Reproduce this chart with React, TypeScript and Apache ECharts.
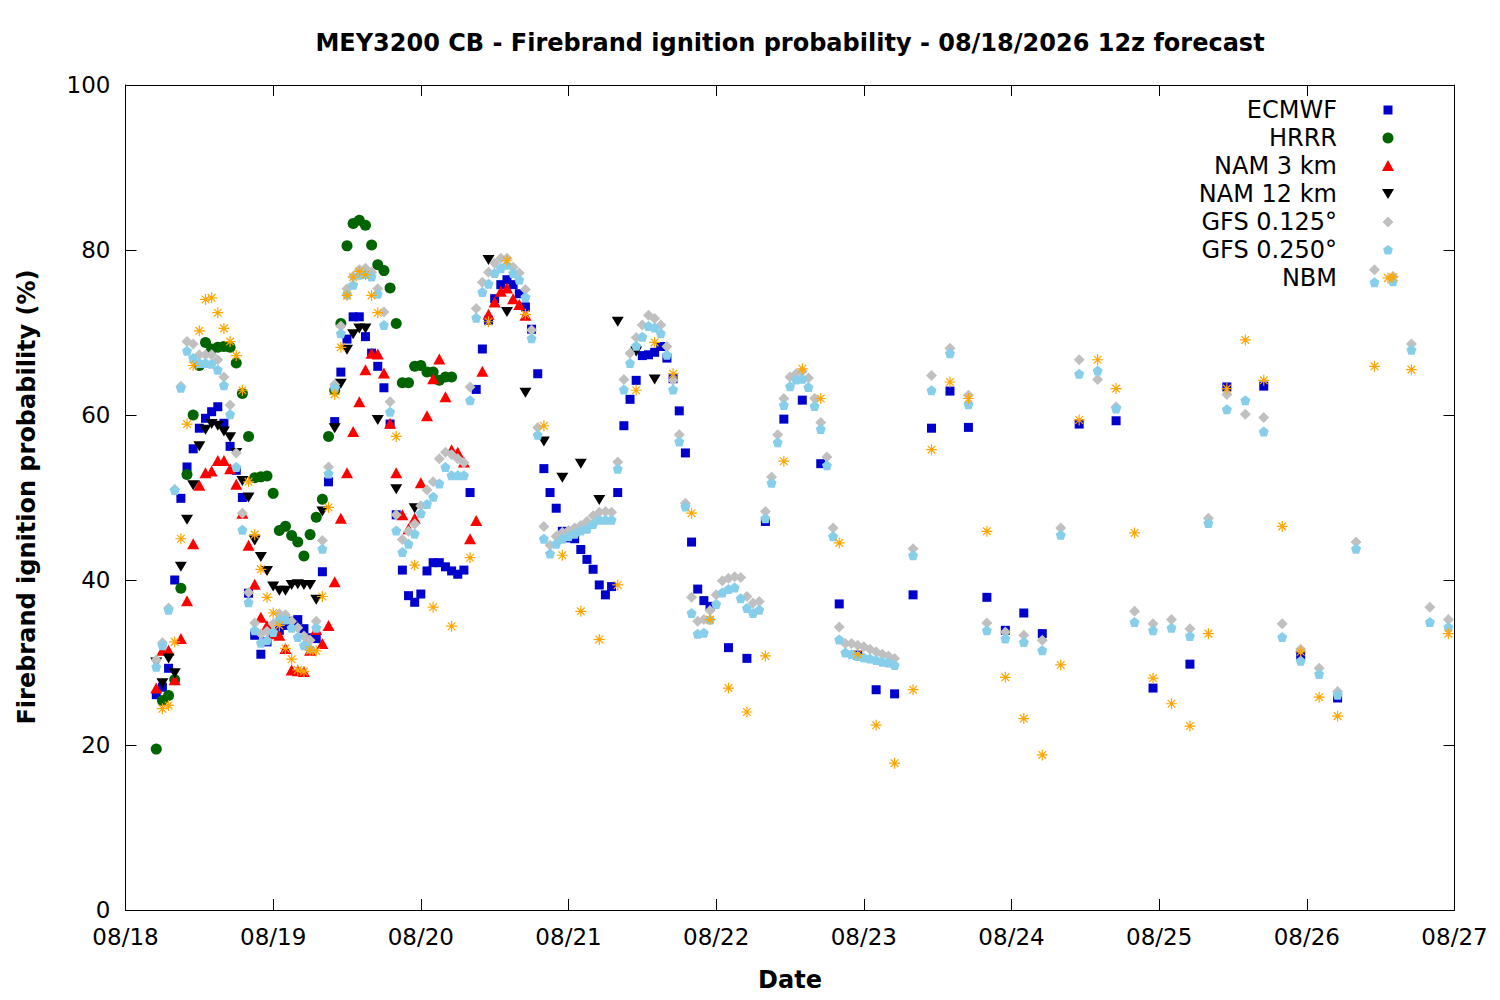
import React, { useEffect, useRef } from "react";
import * as echarts from "echarts";

// hours since 08/18 00 (local), value (%)
const ECMWF: [number, number][] = [
  [5, 26.1], [6, 27], [7, 29.3], [8, 40], [9, 49.9], [10, 53.7], [11, 55.9], [12, 58.4], [13, 59.6], [14, 60.4],
  [15, 61], [16, 59], [17, 56.2], [18, 53.3], [19, 50], [20, 38.4], [21, 33.3], [22, 31], [23, 32.5], [24, 33.4],
  [25, 33.9], [26, 34.5], [27, 35], [28, 35.2], [29, 34.1], [30, 33], [31, 32.9], [32, 41], [33, 51.9], [34, 59.2],
  [35, 65.2], [36, 69.2], [37, 71.9], [38, 71.9], [39, 69.5], [40, 67.5], [41, 65.9], [42, 63.3], [43, 58.9], [44, 47.9],
  [45, 41.2], [46, 38.1], [47, 37.3], [48, 38.3], [49, 41.1], [50, 42.1], [51, 42.1], [52, 41.6], [53, 41.1], [54, 40.7],
  [55, 41.2], [56, 50.6], [57, 63.1], [58, 68], [59, 71.5], [60, 74.1], [61, 75.8], [62, 76.4], [63, 75.8], [64, 74.7],
  [65, 73.1], [66, 70.4], [67, 65], [68, 53.5], [69, 50.6], [70, 48.7], [71, 45.9], [72, 45.1], [73, 45], [74, 43.7],
  [75, 42.5], [76, 41.3], [77, 39.4], [78, 38.2], [79, 39.2], [80, 50.6], [81, 58.7], [82, 61.9], [83, 64.2], [84, 67.2],
  [85, 67.3], [86, 67.6], [87, 68.3], [88, 66.9], [89, 64.4], [90, 60.5], [91, 55.4], [92, 44.6], [93, 38.9], [94, 37.5],
  [95, 36.8], [98, 31.8], [101, 30.5], [104, 47.1], [107, 59.5], [110, 61.8], [113, 54.1], [116, 37.1], [119, 30.9],
  [122, 26.7], [125, 26.2], [128, 38.2], [131, 58.4], [134, 62.9], [137, 58.5], [140, 37.9], [143, 33.9], [146, 36],
  [149, 33.5], [155, 58.9], [161, 59.3], [167, 26.9], [173, 29.8], [179, 63.4], [185, 63.5], [191, 30.9], [197, 25.7],
];

const HRRR: [number, number][] = [
  [5, 19.5], [6, 25.4], [7, 26], [8, 27.9], [9, 39], [10, 52.8], [11, 60], [12, 66], [13, 68.8], [14, 68],
  [15, 68.2], [16, 68.3], [17, 68.2], [18, 66.3], [19, 62.6], [20, 57.4], [21, 52.4], [22, 52.5], [23, 52.6], [24, 50.5],
  [25, 46], [26, 46.5], [27, 45.4], [28, 44.6], [29, 42.9], [30, 45.5], [31, 47.6], [32, 49.8], [33, 57.4], [34, 63],
  [35, 71.1], [36, 80.5], [37, 83.2], [38, 83.6], [39, 83], [40, 80.6], [41, 78.2], [42, 77.5], [43, 75.4], [44, 71.1],
  [45, 63.9], [46, 63.9], [47, 65.9], [48, 66], [49, 65.2], [50, 65.2], [51, 64.2], [52, 64.6], [53, 64.6],
];

const NAM3: [number, number][] = [
  [5, 26.9], [6, 31.5], [7, 31.5], [8, 27.9], [9, 32.9], [10, 37.5], [11, 44.4], [12, 51.5], [13, 53], [14, 53.2],
  [15, 54.5], [16, 54.5], [17, 53.5], [18, 51.6], [19, 48.1], [20, 44.2], [21, 39.5], [22, 35.5], [23, 34.5], [24, 33.5],
  [25, 33.3], [26, 31.7], [27, 29.1], [28, 29], [29, 28.9], [30, 31.5], [31, 34], [32, 32.3], [33, 34.5], [34, 39.8],
  [35, 47.5], [36, 53], [37, 58], [38, 61.6], [39, 65.5], [40, 67.5], [41, 67.4], [42, 65.1], [43, 59], [44, 53],
  [45, 47.9], [46, 46.2], [47, 47.5], [48, 51.8], [49, 59.9], [50, 64.4], [51, 66.8], [52, 62.2], [53, 55.8], [54, 55.5],
  [55, 54.3], [56, 45], [57, 47.2], [58, 65.3], [59, 72.2], [60, 73.7], [61, 75], [62, 75.4], [63, 74.1], [64, 73.4],
  [65, 72.1],
];

const NAM12: [number, number][] = [
  [5, 30], [6, 27.5], [7, 30.5], [8, 28.7], [9, 41.6], [10, 47.3], [11, 51.5], [12, 56.2], [13, 58.2], [14, 58.9],
  [15, 58.7], [16, 58], [17, 57.3], [18, 55.4], [19, 52], [20, 50], [21, 44.8], [22, 42.8], [23, 41.1], [24, 39.2],
  [25, 38.7], [26, 38.7], [27, 39.4], [28, 39.5], [29, 39.4], [30, 39.4], [31, 37.6], [32, 48.3], [34, 58.4], [35, 63.8],
  [36, 67.9], [37, 69.8], [38, 70.5], [39, 70.5], [41, 59.4], [44, 51], [47, 48.7], [59, 78.8], [62, 72.5], [65, 62.7],
  [68, 56.8], [71, 52.4], [74, 54.1], [77, 49.7], [80, 71.3], [83, 67.7], [86, 64.3],
];

const GFS125: [number, number][] = [
  [5, 30.3], [6, 32.4], [7, 36.6], [8, 51], [9, 63.5], [10, 68.9], [11, 68.6], [12, 67.3], [13, 67.3], [14, 67.3],
  [15, 66.7], [16, 64.6], [17, 61.2], [18, 55.4], [19, 48.1], [20, 38.5], [21, 34.8], [22, 33.5], [23, 33.8], [24, 34.7],
  [25, 35.9], [26, 35.8], [27, 35], [28, 34.2], [29, 33.2], [30, 32.7], [31, 35], [32, 44.8], [33, 53.7], [34, 63.7],
  [35, 70.8], [36, 75.3], [37, 76.8], [38, 77.6], [39, 77.8], [40, 77.3], [41, 75.3], [42, 72.5], [43, 61.6], [44, 47.9],
  [45, 44.9], [46, 45.9], [47, 46.8], [48, 49], [49, 50.9], [50, 51.9], [51, 54.7], [52, 55.5], [53, 55.2], [54, 54.7],
  [55, 54.2], [56, 63.4], [57, 72.9], [58, 76.1], [59, 77.3], [60, 78.4], [61, 79], [62, 79], [63, 77.9], [64, 77.2],
  [65, 75.2], [66, 70.3], [67, 58.5], [68, 46.5], [69, 44.2], [70, 45.3], [71, 45.8], [72, 46], [73, 46.3], [74, 46.6],
  [75, 47.1], [76, 47.8], [77, 48.2], [78, 48.3], [79, 48.2], [80, 54.3], [81, 64.3], [82, 67.5], [83, 69.4], [84, 70.9],
  [85, 72.1], [86, 71.7], [87, 70.9], [88, 68.3], [89, 64.2], [90, 57.6], [91, 49.3], [92, 37.9], [93, 35], [94, 35.2],
  [95, 36.3], [96, 38.2], [97, 39.9], [98, 40.2], [99, 40.4], [100, 40.3], [101, 38], [102, 37.2], [103, 37.4], [104, 48.3],
  [105, 52.5], [106, 57.6], [107, 62], [108, 64.6], [109, 65], [110, 65.3], [111, 64.5], [112, 62], [113, 59.1], [114, 54.9],
  [115, 46.3], [116, 34.3], [117, 32.3], [118, 32.3], [119, 32.1], [120, 31.9], [121, 31.6], [122, 31.3], [123, 31], [124, 30.8],
  [125, 30.5], [128, 43.8], [131, 64.8], [134, 68.1], [137, 62.4], [140, 34.8], [143, 33.7], [146, 33.3], [149, 32.7], [152, 46.3],
  [155, 66.7], [158, 64.3], [161, 61], [164, 36.2], [167, 34.7], [170, 35.2], [173, 34.1], [176, 47.5], [179, 62.5], [182, 60.1],
  [185, 59.7], [188, 34.7], [191, 31.6], [194, 29.3], [197, 26.5], [200, 44.6], [203, 77.6], [206, 76.8], [209, 68.6], [212, 36.7],
  [215, 35.2],
];

const GFS250: [number, number][] = [
  [5, 29.5], [6, 32.1], [7, 36.4], [8, 50.9], [9, 63.3], [10, 67.8], [11, 66.9], [12, 66.3], [13, 66.3], [14, 66.2],
  [15, 65.5], [16, 63.6], [17, 60.1], [18, 53.7], [19, 46.1], [20, 37.3], [21, 33.9], [22, 32.4], [23, 32.7], [24, 33.7],
  [25, 35.2], [26, 35.2], [27, 34.2], [28, 33.1], [29, 32.1], [30, 31.7], [31, 34.2], [32, 43.8], [33, 52.9], [34, 63.3],
  [35, 69.9], [36, 74.6], [37, 75.8], [38, 77], [39, 77.1], [40, 76.8], [41, 74.7], [42, 70.9], [43, 60.4], [44, 46],
  [45, 43.4], [46, 44.4], [47, 45.6], [48, 48.1], [49, 49.2], [50, 50.1], [51, 51.7], [52, 53.7], [53, 52.7], [54, 52.7],
  [55, 52.7], [56, 61.8], [57, 71.8], [58, 74.9], [59, 75.9], [60, 77.2], [61, 77.8], [62, 78.2], [63, 77.2], [64, 76.4],
  [65, 74.3], [66, 69.3], [67, 57.6], [68, 45], [69, 43.2], [70, 44.4], [71, 45], [72, 45.3], [73, 45.6], [74, 46],
  [75, 46.2], [76, 46.8], [77, 47.3], [78, 47.3], [79, 47.3], [80, 53.5], [81, 63.1], [82, 66.3], [83, 68.4], [84, 69.5],
  [85, 70.8], [86, 70.6], [87, 69.9], [88, 67.3], [89, 63.1], [90, 56.8], [91, 48.9], [92, 36], [93, 33.5], [94, 33.6],
  [95, 35.2], [96, 37.1], [97, 38.5], [98, 38.9], [99, 39.1], [100, 37.8], [101, 36.6], [102, 36], [103, 36.4], [104, 47.5],
  [105, 51.8], [106, 56.7], [107, 61.2], [108, 63.5], [109, 64.3], [110, 64.4], [111, 63.4], [112, 61.1], [113, 58.3], [114, 53.9],
  [115, 45.3], [116, 32.8], [117, 31.2], [118, 31], [119, 30.8], [120, 30.6], [121, 30.5], [122, 30.3], [123, 30.1], [124, 30],
  [125, 29.7], [128, 43], [131, 63], [134, 67.5], [137, 61.3], [140, 33.9], [143, 32.9], [146, 32.5], [149, 31.5], [152, 45.5],
  [155, 65], [158, 65.4], [161, 60.8], [164, 34.9], [167, 33.9], [170, 34.2], [173, 33.2], [176, 46.9], [179, 60.7], [182, 61.8],
  [185, 58], [188, 33.1], [191, 30.2], [194, 28.6], [197, 26.1], [200, 43.8], [203, 76.1], [206, 76.2], [209, 67.9], [212, 34.9],
  [215, 34.3],
];

const NBM: [number, number][] = [
  [6, 24.4], [7, 24.8], [8, 32.5], [9, 45], [10, 58.9], [11, 66], [12, 70.2], [13, 74], [14, 74.2], [15, 72.4],
  [16, 70.5], [17, 68.9], [18, 67.2], [19, 63], [20, 51.9], [21, 45.5], [22, 41.3], [23, 37.9], [24, 36], [25, 34.5],
  [26, 31.7], [27, 30.4], [28, 29.1], [29, 28.9], [30, 31.5], [31, 31.4], [32, 38], [33, 48.8], [34, 62.5], [35, 68.2],
  [36, 74.5], [37, 76.7], [38, 77.4], [39, 77], [40, 74.5], [41, 72.4], [44, 57.4], [47, 41.8], [50, 36.7], [53, 34.4],
  [56, 42.7], [59, 71.3], [62, 78.7], [65, 72.2], [68, 58.7], [71, 43], [74, 36.2], [77, 32.8], [80, 39.4], [83, 63],
  [86, 68.8], [89, 65], [92, 48.1], [95, 35.2], [98, 26.9], [101, 24], [104, 30.8], [107, 54.4], [110, 65.6], [113, 62],
  [116, 44.5], [119, 31], [122, 22.4], [125, 17.8], [128, 26.7], [131, 55.8], [134, 64], [137, 62], [140, 45.9], [143, 28.2],
  [146, 23.2], [149, 18.8], [152, 29.7], [155, 59.4], [158, 66.7], [161, 63.2], [164, 45.7], [167, 28.1], [170, 25], [173, 22.3],
  [176, 33.5], [179, 63.2], [182, 69.1], [185, 64.2], [188, 46.5], [191, 31.3], [194, 25.8], [197, 23.5], [203, 65.9], [206, 76.7],
  [209, 65.5], [215, 33.5],
];

const X_TICK_LABELS = ["08/18", "08/19", "08/20", "08/21", "08/22", "08/23", "08/24", "08/25", "08/26", "08/27"];
const SERIES_NAMES = ["ECMWF", "HRRR", "NAM 3 km", "NAM 12 km", "GFS 0.125°", "GFS 0.250°", "NBM"];

const FONT = "DejaVu Sans";
const DOWN_TRI = "path://M0,0L12,0L6,10Z";
const PENTAGON = "path://M5,0L10,3.8L8.1,9.5L1.9,9.5L0,3.8Z";
const ASTERISK = "path://M0,5L10,5M5,0L5,10M1.5,1.5L8.5,8.5M8.5,1.5L1.5,8.5";

export default function App() {
  const ref = useRef<HTMLDivElement>(null);

  useEffect(() => {
    if (!ref.current) return;
    const chart = echarts.init(ref.current, null, { renderer: "svg" });

    const mk = (name: string, data: [number, number][], symbol: string, size: any, color: string, extra: any = {}) => ({
      name,
      type: "scatter",
      data,
      symbol,
      symbolSize: size,
      silent: true,
      itemStyle: { color, opacity: 1, ...extra },
      emphasis: { disabled: true },
    });

    const LX = 1388;
    const LT = 1337;
    const rowY = (i: number) => 110 + i * 28;
    const legendGraphics: any[] = [];
    SERIES_NAMES.forEach((n, i) => {
      legendGraphics.push({
        type: "text",
        x: LT,
        y: rowY(i),
        style: { text: n, font: `24px "${FONT}"`, fill: "#000", textAlign: "right", textVerticalAlign: "middle" },
      });
    });
    legendGraphics.push({ type: "rect", shape: { x: LX - 4.5, y: rowY(0) - 4.5, width: 9, height: 9 }, style: { fill: "#0000cd" } });
    legendGraphics.push({ type: "circle", shape: { cx: LX, cy: rowY(1), r: 5.5 }, style: { fill: "#006400" } });
    legendGraphics.push({ type: "polygon", shape: { points: [[LX, rowY(2) - 6], [LX + 6, rowY(2) + 5], [LX - 6, rowY(2) + 5]] }, style: { fill: "#ff0000" } });
    legendGraphics.push({ type: "polygon", shape: { points: [[LX - 6, rowY(3) - 5], [LX + 6, rowY(3) - 5], [LX, rowY(3) + 5]] }, style: { fill: "#000000" } });
    legendGraphics.push({ type: "polygon", shape: { points: [[LX, rowY(4) - 5.5], [LX + 5.5, rowY(4)], [LX, rowY(4) + 5.5], [LX - 5.5, rowY(4)]] }, style: { fill: "#c0c0c0" } });
    const py = rowY(5);
    legendGraphics.push({
      type: "polygon",
      shape: { points: [[LX, py - 5], [LX + 5, py - 1.2], [LX + 3.1, py + 4.5], [LX - 3.1, py + 4.5], [LX - 5, py - 1.2]] },
      style: { fill: "#87ceeb" },
    });
    const ay = rowY(6);
    const ast = [
      [[LX - 5.5, ay], [LX + 5.5, ay]],
      [[LX, ay - 5.5], [LX, ay + 5.5]],
      [[LX - 4, ay - 4], [LX + 4, ay + 4]],
      [[LX - 4, ay + 4], [LX + 4, ay - 4]],
    ];
    ast.forEach((p) =>
      legendGraphics.push({
        type: "line",
        z: 100,
        shape: { x1: p[0][0], y1: p[0][1], x2: p[1][0], y2: p[1][1] },
        style: { stroke: "#ffa500", lineWidth: 1.2 },
      })
    );

    const tick = { show: true, inside: true, length: 11, lineStyle: { color: "#000", width: 1 } };
    const line = { show: true, onZero: false, lineStyle: { color: "#000", width: 1 } };

    const option: any = {
      animation: false,
      backgroundColor: "#ffffff",
      textStyle: { fontFamily: FONT },
      grid: { left: 125.5, right: 45.5, top: 85, bottom: 90, containLabel: false },
      xAxis: [
        {
          type: "value",
          min: 0,
          max: 216,
          interval: 24,
          position: "bottom",
          axisLine: line,
          axisTick: tick,
          axisLabel: {
            margin: 15,
            color: "#000",
            fontSize: 23,
            fontFamily: FONT,
            formatter: (v: number) => X_TICK_LABELS[Math.round(v / 24)] ?? "",
          },
          splitLine: { show: false },
        },
        {
          type: "value",
          min: 0,
          max: 216,
          interval: 24,
          position: "top",
          axisLine: line,
          axisTick: tick,
          axisLabel: { show: false },
          splitLine: { show: false },
        },
      ],
      yAxis: [
        {
          type: "value",
          min: 0,
          max: 100,
          interval: 20,
          position: "left",
          axisLine: line,
          axisTick: tick,
          axisLabel: { margin: 15, color: "#000", fontSize: 23, fontFamily: FONT },
          splitLine: { show: false },
        },
        {
          type: "value",
          min: 0,
          max: 100,
          interval: 20,
          position: "right",
          axisLine: line,
          axisTick: tick,
          axisLabel: { show: false },
          splitLine: { show: false },
        },
      ],
      series: [
        mk(SERIES_NAMES[0], ECMWF, "rect", 9, "#0000cd"),
        mk(SERIES_NAMES[1], HRRR, "circle", 11, "#006400"),
        mk(SERIES_NAMES[2], NAM3, "triangle", [12, 11], "#ff0000"),
        mk(SERIES_NAMES[3], NAM12, DOWN_TRI, [12, 10], "#000000"),
        mk(SERIES_NAMES[4], GFS125, "diamond", [11, 11], "#c0c0c0"),
        mk(SERIES_NAMES[5], GFS250, PENTAGON, [10, 10], "#87ceeb"),
        mk(SERIES_NAMES[6], NBM, ASTERISK, [11, 11], "#ffa500", { borderColor: "#ffa500", borderWidth: 1.2 }),
      ],
      graphic: [
        {
          type: "text",
          x: 790,
          y: 43,
          style: {
            text: "MEY3200 CB - Firebrand ignition probability - 08/18/2026 12z forecast",
            font: `bold 24px "${FONT}"`,
            fill: "#000",
            textAlign: "center",
            textVerticalAlign: "middle",
          },
        },
        {
          type: "text",
          x: 790,
          y: 980,
          style: { text: "Date", font: `bold 24px "${FONT}"`, fill: "#000", textAlign: "center", textVerticalAlign: "middle" },
        },
        {
          type: "text",
          x: 27,
          y: 497,
          rotation: Math.PI / 2,
          style: {
            text: "Firebrand ignition probability (%)",
            font: `bold 24px "${FONT}"`,
            fill: "#000",
            textAlign: "center",
            textVerticalAlign: "middle",
          },
        },
        ...legendGraphics,
      ],
    };

    chart.setOption(option);
    return () => chart.dispose();
  }, []);

  return <div ref={ref} style={{ position: "absolute", left: 0, top: 0, width: 1500, height: 1000 }} />;
}
